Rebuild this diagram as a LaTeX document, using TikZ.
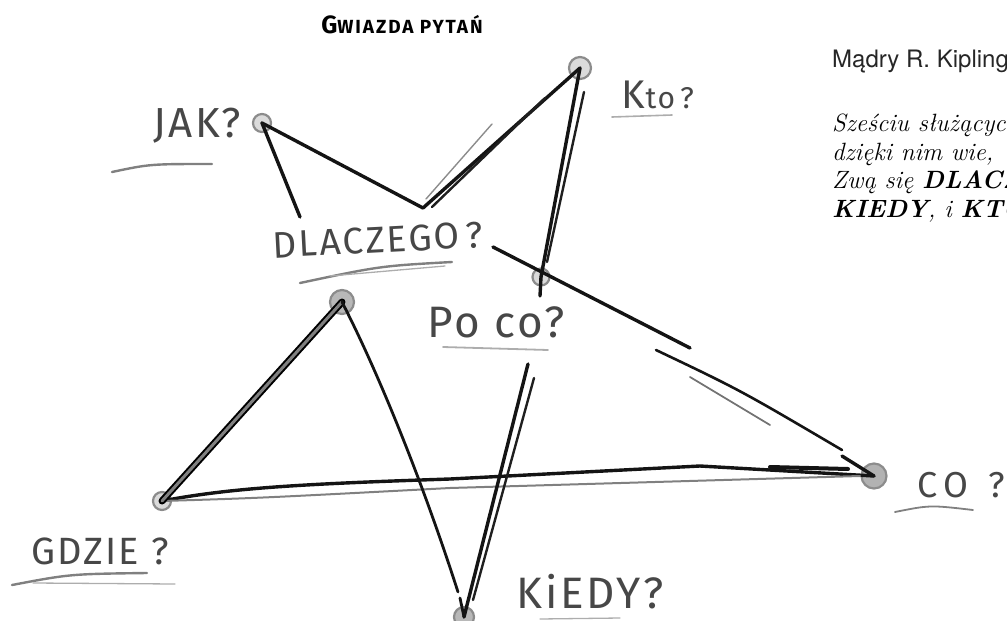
\documentclass[tikz,border=0pt]{standalone}
\usepackage{fontspec}
\newfontfamily\hand{Fira Sans}[LetterSpace=6]
\newfontfamily\titlefont{Fira Sans}[LetterSpace=10]
\newfontfamily\helv{TeX Gyre Heros}
\begin{document}
\begin{tikzpicture}[x=1pt,y=-1pt,
  ink/.style={line width=3.4pt, line cap=round, line join=round, draw=black!92},
  inkthin/.style={line width=2.4pt, line cap=round, draw=black!88},
  pencil/.style={line width=1.4pt, line cap=round, draw=black!45},
  uline/.style={line width=2.4pt, line cap=round, draw=black!50},
  ulinethin/.style={line width=1.3pt, line cap=round, draw=black!32},
  dot/.style={circle, draw=black!45, fill=black!14, line width=2.2pt, minimum size=18pt, inner sep=0pt},
  lbl/.style={text=black!72, inner sep=0pt},
  quote/.style={anchor=base west, inner sep=0pt, font=\fontsize{25}{29}\selectfont\itshape}
]
\useasboundingbox (0,0) rectangle (1007,621);
\clip (0,0) rectangle (1007,621);

% title
\node[anchor=base, inner sep=0pt] (title) at (402,34)
  {\titlefont\bfseries\fontsize{25}{25}\selectfont G\fontsize{19}{19}\selectfont WIAZDA PYTAŃ};

% right text
\node[anchor=base west, inner sep=0pt, text=black!85] (author) at (832,67)
  {\helv\fontsize{24}{28}\selectfont Mądry R. Kipling};
\node[quote] (q1) at (832,131) {Sześciu służących};
\node[quote] (q2) at (832,160) {dzięki nim wie,};
\node[quote] (q3) at (832,188) {Zwą się \textbf{DLACZEGO}};
\node[quote] (q4) at (832,217) {\textbf{KIEDY}, i \textbf{KTO}, i};

% vertices
\node[dot] (A) at (262,123) {};
\node[dot, minimum size=22pt] (B) at (580,68) {};
\node[dot, minimum size=17pt] (P) at (541,277) {};
\node[dot, minimum size=24pt, fill=black!28] (L) at (342,302) {};
\node[dot] (G) at (162,501) {};
\node[dot, minimum size=25pt, fill=black!30] (C) at (874,476) {};
\node[dot, minimum size=20pt, fill=black!28] (K) at (464,617) {};
\coordinate (T) at (423,208);

% JAK edges
\draw[ink] (A.center) -- (T);
\coordinate (Aend) at (300,217);
\draw[ink] (A.center) -- (Aend);

% T -- KTO (double)
\draw[ink] (T) -- (B.center);
\coordinate (tb1) at (432,207);
\coordinate (tb2) at (545,98);
\draw[inkthin] (tb1) -- (tb2);
\coordinate (tb3) at (426,199);
\coordinate (tb4) at (492,124);
\draw[pencil] (tb3) -- (tb4);

% KTO -- Po co (double)
\draw[ink] (B.center) -- (P.center);
\coordinate (bp1) at (584,92);
\coordinate (bp2) at (547,262);
\draw[inkthin] (bp1) -- (bp2);

% DLACZEGO? -- CO (broken)
\coordinate (s1a) at (493,247);
\coordinate (s1b) at (690,348);
\coordinate (s2a) at (656,350);
\coordinate (s2b) at (842,450);
\coordinate (s3a) at (690,377);
\coordinate (s3b) at (770,425);
\coordinate (s4a) at (842,456);
\draw[ink] (s1a) -- (s1b);
\draw[ink, line width=2.6pt] (s2a) .. controls (740,390) .. (s2b);
\draw[pencil, line width=1.8pt, draw=black!55] (s3a) -- (s3b);
\draw[ink] (s4a) -- (C.center);

% CO -- GDZIE
\coordinate (cg1) at (450,479);
\coordinate (cg2) at (700,466);
\draw[ink] (C.center) -- (cg2) -- (cg1) .. controls (300,484) and (230,488) .. (G.center);
\coordinate (cg3) at (450,488);
\coordinate (cg4) at (860,476);
\draw[pencil, line width=2pt, draw=black!50] (G.center) .. controls (260,498) .. (cg3) -- (cg4);
\coordinate (cg5) at (770,467);
\coordinate (cg6) at (848,469);
\draw[ink, line width=4pt] (cg5) -- (cg6);

% GDZIE -- lower inner (double)
\draw[ink, draw=black, double=black!50, double distance=3pt, line width=2pt] (G.center) -- (L.center);

% lower inner -- KIEDY
\coordinate (lk1) at (458,592);
\draw[ink, line width=2.8pt] (L.center) .. controls (378,372) and (422,480) .. (lk1);
\coordinate (lk2) at (460,598);
\draw[ink, line width=2.8pt] (lk2) -- (K.center);

% Po co -- KIEDY (double)
\coordinate (pk0) at (540,296);
\draw[ink] (P.center) -- (pk0);
\coordinate (pk1) at (528,364);
\draw[ink] (pk1) -- (K.center);
\coordinate (pk2) at (534,378);
\coordinate (pk3) at (473,600);
\draw[inkthin] (pk2) -- (pk3);

% labels
\node[lbl, font=\hand\fontsize{42}{42}\selectfont] (jak) at (197,126) {JAK?};
\node[lbl, font=\hand\fontsize{40}{40}\selectfont] (kto) at (658,95) {K\fontsize{30}{30}\selectfont to\,?};
\node[lbl, font=\hand\fontsize{37}{37}\selectfont, rotate=3] (dla) at (378,240) {DLACZEGO\,?};
\node[lbl, font=\hand\fontsize{44}{44}\selectfont] (poco) at (496,322) {Po co?};
\node[lbl, font=\hand\fontsize{38}{38}\selectfont] (gdzie) at (100,551) {GDZIE ?};
\node[lbl, font=\hand\fontsize{44}{44}\selectfont] (kiedy) at (590,592) {KiEDY?};
\node[lbl, font=\hand\fontsize{36}{36}\selectfont] (co) at (961,485) {C\,O\;\;?};

% underlines
\coordinate (u1a) at (112,172); \coordinate (u1b) at (212,164);
\draw[uline] (u1a) .. controls (150,164) .. (u1b);
\coordinate (u2a) at (612,117); \coordinate (u2b) at (672,115);
\draw[ulinethin, line width=1.6pt] (u2a) -- (u2b);
\coordinate (u3a) at (300,283); \coordinate (u3b) at (452,262);
\draw[uline] (u3a) .. controls (380,266) .. (u3b);
\coordinate (u3c) at (330,276); \coordinate (u3d) at (445,266);
\draw[ulinethin] (u3c) -- (u3d);
\coordinate (u4a) at (443,347); \coordinate (u4b) at (548,350);
\draw[ulinethin, line width=1.8pt] (u4a) -- (u4b);
\coordinate (u5a) at (12,585); \coordinate (u5b) at (147,573);
\draw[uline] (u5a) .. controls (70,574) .. (u5b);
\coordinate (u5c) at (33,583); \coordinate (u5d) at (175,584);
\draw[ulinethin] (u5c) -- (u5d);
\coordinate (u6a) at (540,619); \coordinate (u6b) at (620,618);
\draw[ulinethin] (u6a) -- (u6b);
\coordinate (u7a) at (895,512); \coordinate (u7b) at (973,510);
\draw[uline, line width=1.8pt] (u7a) .. controls (930,505) .. (u7b);
\end{tikzpicture}
\end{document}
